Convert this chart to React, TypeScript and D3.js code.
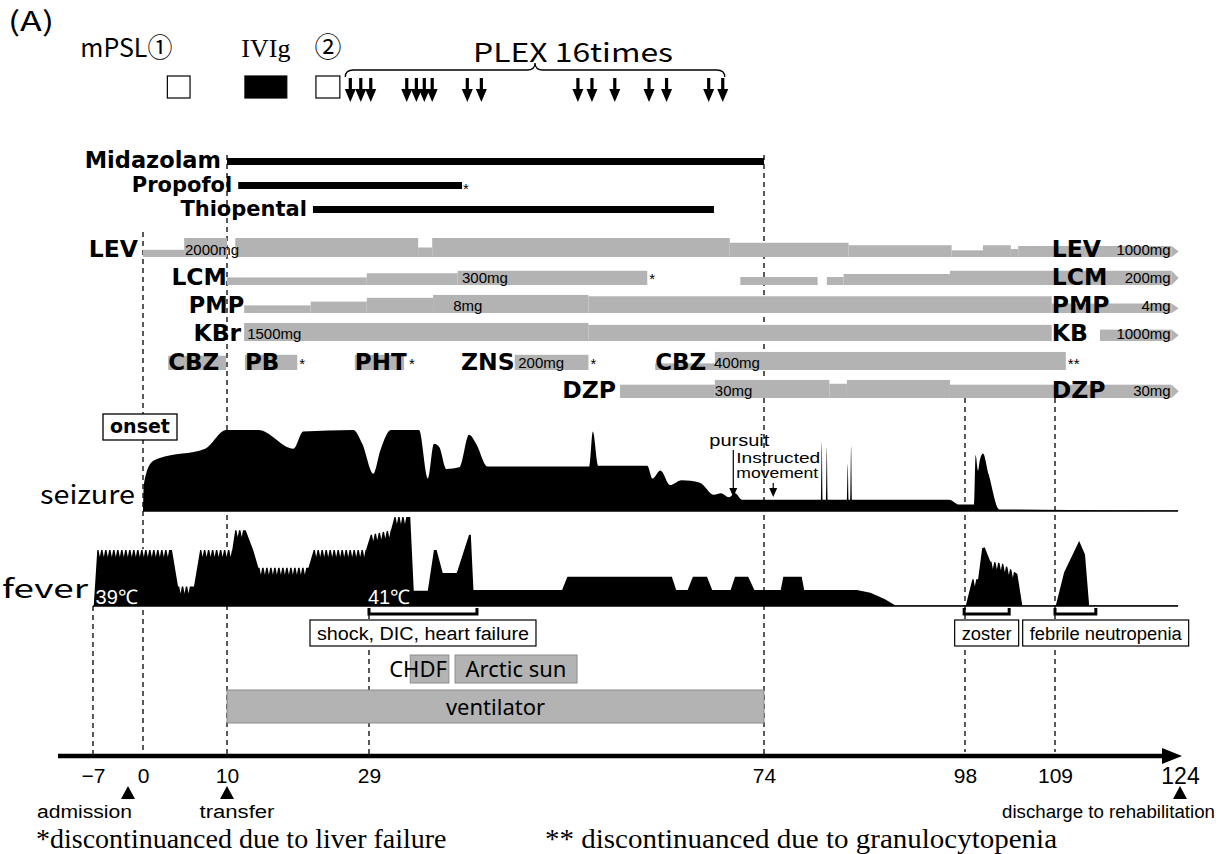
import { useEffect, useRef } from "react";
import * as d3 from "d3";

type Step = [number, number, number]; // [fromDay, toDay, relative dose level 0-1]
type Pt = [number, number]; // [day, level 0-100]

const axisDays = [-7, 0, 10, 29, 74, 98, 109, 124];

// immunotherapy courses
const immunoLabels = ["mPSL①", "IVIg", "②"];
const immunoStart = [2.9, 12.4, 21.9];
const immunoEnd = [5.6, 18.0, 25.1];
const immunoFilled = [false, true, false];

// plasma exchange sessions (16)
const plexDays = [26.5, 27.9, 29.2, 33.3, 34.4, 35.3, 36.2, 40.2, 41.8, 52.8, 54.4, 57.0, 60.9, 62.9, 67.7, 69.3];

// continuous sedatives
const sedNames = ["Midazolam", "Propofol", "Thiopental"];
const sedStart = [10, 11.5, 21.5];
const sedEnd = [74, 39.6, 68.3];
const sedNote = ["", "*", ""];

// antiseizure drugs
const levSteps: Step[] = [[0, 4.9, 0.38], [4.9, 10, 1], [11.1, 34.6, 1], [34.6, 36.2, 0.5], [36.2, 70.1, 1], [70.1, 84.1, 0.75], [84.1, 96.4, 0.62], [96.4, 100.2, 0.35], [100.2, 103.6, 0.62], [103.6, 104.5, 0.42], [104.5, 123, 0.58]];
const lcmSteps: Step[] = [[10, 28.7, 0.4], [28.7, 39.1, 0.62], [39.1, 60.7, 0.75], [71.3, 80.4, 0.42], [81.5, 83.5, 0.42], [83.5, 96.2, 0.58], [96.2, 123, 0.75]];
const pmpSteps: Step[] = [[12.3, 21.2, 0.4], [21.2, 28.7, 0.6], [28.7, 36.3, 0.8], [36.3, 54, 0.95], [54, 108.6, 0.88], [108.6, 123, 0.5]];
const kbrSteps: Step[] = [[12.3, 54, 0.95], [54, 108.6, 0.85], [114.4, 123, 0.6]];
const cbzSteps: Step[] = [[3.0, 9.9, 0.75]];
const pbSteps: Step[] = [[12.4, 19.4, 0.8]];
const phtSteps: Step[] = [[27.1, 33.0, 0.8]];
const znsSteps: Step[] = [[45.6, 54.0, 0.8]];
const cbz2Steps: Step[] = [[61.6, 68.4, 0.35], [68.4, 110.3, 0.95]];
const dzpSteps: Step[] = [[57.6, 68.4, 0.7], [68.4, 81.8, 0.95], [81.8, 83.9, 0.75], [83.9, 96.2, 0.95], [96.2, 123, 0.7]];

const doseNotes = [
  { drug: "LEV", day: 5.0, text: "2000mg" },
  { drug: "LCM", day: 39.6, text: "300mg" },
  { drug: "PMP", day: 38.6, text: "8mg" },
  { drug: "KBr", day: 12.7, text: "1500mg" },
  { drug: "ZNS", day: 46.0, text: "200mg" },
  { drug: "CBZ2", day: 68.3, text: "400mg" },
  { drug: "DZP", day: 68.4, text: "30mg" },
];
const finalNames = ["LEV", "LCM", "PMP", "KB", "DZP"];
const finalDoses = ["1000mg", "200mg", "4mg", "1000mg", "30mg"];

// seizure burden and body temperature (relative 0-100)
const seizurePts: Pt[] = [[0, 0], [0.1, 33], [1.0, 60], [1.9, 65], [7.4, 77], [9.9, 100], [14.2, 100], [18.9, 77], [20.2, 98], [26.9, 100], [28.1, 83], [29.5, 46], [30.3, 75], [31.5, 100], [34.7, 100], [35.7, 40], [36.4, 83], [37.0, 79], [37.8, 52], [39.3, 54], [40.4, 94], [41.2, 83], [42.5, 55], [54.1, 55], [54.5, 98], [55.1, 56], [60.7, 56], [61.3, 40], [62.2, 50], [63.3, 32], [64.6, 38], [66.7, 35], [68.3, 20], [69.1, 22], [70.0, 17], [70.7, 22], [71.5, 14], [80.8, 14], [80.9, 85], [81.0, 14], [81.4, 14], [81.5, 78], [81.6, 14], [83.9, 14], [84.0, 58], [84.1, 14], [84.3, 14], [84.4, 80], [84.5, 14], [96.1, 14], [97.3, 8], [99.1, 8], [99.3, 69], [99.6, 50], [99.8, 62], [100.2, 71], [100.9, 45], [102.2, 2], [123.8, 0.5]];
const feverPts: Pt[] = [[-6.9, 0], [-6.4, 63], [3.45, 63], [4.17, 22], [6.07, 22], [6.8, 63], [10.7, 63], [11.1, 85], [12.5, 85], [13.5, 63], [14.2, 43], [20.9, 43], [21.6, 63], [28.6, 63], [29.2, 80], [31.5, 85], [31.9, 100], [33.7, 100], [34.1, 17], [35.7, 17], [36.4, 63], [36.7, 63], [37.4, 37], [39.0, 37], [40.4, 80], [40.6, 80], [40.9, 18], [51.0, 18], [51.6, 33], [63.5, 33], [64.0, 18], [65.3, 18], [65.9, 33], [67.5, 33], [68.1, 18], [70.2, 18], [70.7, 33], [72.2, 33], [72.9, 18], [76.0, 18], [76.3, 33], [78.5, 33], [78.8, 18], [85.1, 18], [86.7, 15], [88.4, 8], [89.7, 0.5], [98.1, 0.5], [98.9, 30], [99.6, 30], [100.1, 65], [100.4, 66], [101.1, 50], [102.5, 48], [104.4, 36], [105.0, 0.5], [109.1, 0.5], [110.1, 38], [111.9, 73], [112.6, 58], [113.1, 0.5], [123.8, 0.5]];
const feverTeeth: [number, number][] = [[-6.4, 3.45], [4.17, 6.07], [6.8, 10.7], [11.1, 12.5], [14.2, 20.9], [21.6, 28.6], [29.2, 31.5], [31.9, 33.7], [98.9, 99.6], [101.1, 104.4]];
const tempLabels = ["39℃", "41℃"];
const tempDays = [-6.5, 29];

const recoveryLabels = ["pursuit", "Instructed movement"];
const recoveryDays = [70.5, 75.1];

const eventLabels = ["shock, DIC, heart failure", "zoster", "febrile neutropenia"];
const eventFrom = [29, 97.9, 109];
const eventTo = [41.3, 103.4, 113.9];

const supportLabels = ["CHDF", "Arctic sun", "ventilator"];
const supportFrom = [33.7, 38.8, 10];
const supportTo = [38.1, 52.7, 74];

const milestoneLabels = ["admission", "transfer", "discharge to rehabilitation"];
const milestoneDays = [-2.1, 10, 124];

const footnotes = ["*discontinuanced due to liver failure", "** discontinuanced due to granulocytopenia"];

const App = () => {
  const ref = useRef<SVGSVGElement | null>(null);

  useEffect(() => {
    if (!ref.current) return;
    const W = 1220;
    const H = 854;
    const svg = d3.select(ref.current);
    svg.selectAll("*").remove();
    svg.attr("width", W).attr("height", H);

    const gothic = "'Noto Sans CJK JP', 'Noto Sans', sans-serif";
    const bold = "'DejaVu Sans', sans-serif";
    const sans = "'Liberation Sans', Arial, sans-serif";
    const serif = "'Liberation Serif', 'Times New Roman', serif";
    const gray = "#b3b3b3";

    const x = d3.scaleLinear().domain(axisDays).range([93, 143, 227, 369, 764, 965, 1055, 1180]);

    svg.append("rect").attr("width", W).attr("height", H).attr("fill", "#fff");

    const text = (s: string, px: number, py: number, size: number, family: string, anchor = "start", weight = "normal", fill = "#000") =>
      svg
        .append("text")
        .attr("x", px)
        .attr("y", py)
        .attr("font-size", size)
        .attr("font-family", family)
        .attr("font-weight", weight)
        .attr("text-anchor", anchor)
        .attr("fill", fill)
        .text(s);

    // dashed guides
    const guides: [number, number, number][] = [[-7, 606, 756], [0, 232, 756], [10, 155, 756], [29, 614, 756], [74, 155, 756], [98, 398, 752], [109, 398, 752]];
    svg
      .selectAll(".guide")
      .data(guides)
      .join("line")
      .attr("x1", (d) => x(d[0]))
      .attr("x2", (d) => x(d[0]))
      .attr("y1", (d) => d[1])
      .attr("y2", (d) => d[2])
      .attr("stroke", "#000")
      .attr("stroke-width", 1.3)
      .attr("stroke-dasharray", "5,4");

    // title + immunotherapy
    text("(A)", 8, 31, 27, gothic).attr("textLength", 46).attr("lengthAdjust", "spacingAndGlyphs");
    immunoLabels.forEach((lab, i) => {
      const x0 = x(immunoStart[i]);
      const x1 = x(immunoEnd[i]);
      svg
        .append("rect")
        .attr("x", x0)
        .attr("y", 76)
        .attr("width", x1 - x0)
        .attr("height", 22)
        .attr("fill", immunoFilled[i] ? "#000" : "#fff")
        .attr("stroke", "#000")
        .attr("stroke-width", 1.2);
      if (i === 0) text(lab, x0 + 5, 57, 26, gothic, "end").attr("textLength", 92).attr("lengthAdjust", "spacingAndGlyphs");
      else text(lab, (x0 + x1) / 2, 57, i === 1 ? 26 : 27, i === 1 ? serif : gothic, "middle");
    });

    // PLEX arrows and brace
    plexDays.forEach((d) => {
      const px = x(d);
      svg.append("line").attr("x1", px).attr("x2", px).attr("y1", 78).attr("y2", 92).attr("stroke", "#000").attr("stroke-width", 3.2);
      svg.append("path").attr("d", `M${px - 5.5},89 L${px + 5.5},89 L${px},102 Z`).attr("fill", "#000");
    });
    const bx0 = x(plexDays[0]) - 5;
    const bx1 = x(plexDays[plexDays.length - 1]) + 2;
    const bxm = (bx0 + bx1) / 2;
    svg
      .append("path")
      .attr("d", `M${bx0},77 Q${bx0},70 ${bx0 + 8},70 L${bxm - 8},70 Q${bxm},70 ${bxm},63 Q${bxm},70 ${bxm + 8},70 L${bx1 - 8},70 Q${bx1},70 ${bx1},77`)
      .attr("fill", "none")
      .attr("stroke", "#000")
      .attr("stroke-width", 1.3);
    text("PLEX 16times", bxm - 62, 62, 26, gothic).attr("textLength", 200).attr("lengthAdjust", "spacingAndGlyphs");

    // sedatives
    sedNames.forEach((name, i) => {
      const top = 158 + i * 24;
      svg
        .append("rect")
        .attr("x", x(sedStart[i]))
        .attr("y", top)
        .attr("width", x(sedEnd[i]) - x(sedStart[i]))
        .attr("height", 7)
        .attr("fill", "#000");
      text(name, x(sedStart[i]) - 6, top + 10, i === 0 ? 22.5 : 21, bold, "end", "bold");
      if (sedNote[i]) text(sedNote[i], x(sedEnd[i]) + 1, top + 12, 15, sans);
    });

    // antiseizure drugs
    const rowBottom = [257, 285, 313, 341, 370, 398];
    const fullH = 19;
    const drugs = [
      { name: "LEV", row: 0, steps: levSteps, note: "" },
      { name: "LCM", row: 1, steps: lcmSteps, note: "*" },
      { name: "PMP", row: 2, steps: pmpSteps, note: "" },
      { name: "KBr", row: 3, steps: kbrSteps, note: "" },
      { name: "CBZ", row: 4, steps: cbzSteps, note: "" },
      { name: "PB", row: 4, steps: pbSteps, note: "*" },
      { name: "PHT", row: 4, steps: phtSteps, note: "*" },
      { name: "ZNS", row: 4, steps: znsSteps, note: "*" },
      { name: "CBZ2", row: 4, steps: cbz2Steps, note: "**" },
      { name: "DZP", row: 5, steps: dzpSteps, note: "" },
    ];
    const h = d3.scaleLinear().domain([0, 1]).range([0, fullH]);
    const inside = ["CBZ", "PB", "PHT", "CBZ2"];

    drugs.forEach((dr) => {
      const base = rowBottom[dr.row];
      svg
        .append("g")
        .selectAll("rect")
        .data(dr.steps)
        .join("rect")
        .attr("x", (d) => x(d[0]))
        .attr("width", (d) => x(d[1]) - x(d[0]))
        .attr("y", (d) => base - h(d[2]))
        .attr("height", (d) => h(d[2]))
        .attr("fill", gray);
      const last = dr.steps[dr.steps.length - 1];
      if (last[1] >= 123) {
        const ex = x(last[1]);
        const eh = h(last[2]);
        svg.append("path").attr("d", `M${ex},${base - eh} L${ex + 7},${base - eh / 2} L${ex},${base} Z`).attr("fill", gray);
      }
      const first = dr.steps[0];
      const label = dr.name.replace("2", "");
      const size = dr.name === "PMP" ? 22.5 : 23.5;
      if (inside.includes(dr.name)) text(label, x(first[0]), base, 23, bold, "start", "bold");
      else text(label, x(first[0]) - (dr.name === "LEV" ? 5 : dr.name === "KBr" ? 3 : dr.name === "DZP" ? 4 : 0), base, size, bold, "end", "bold");
      if (dr.note) {
        const stop = dr.name === "LCM" ? dr.steps[2][1] : last[1];
        text(dr.note, x(stop) + (dr.name === "PHT" ? 5 : 2), base - 1, 15, sans);
      }
    });

    doseNotes.forEach((n) => {
      const dr = drugs.find((d) => d.name === n.drug)!;
      text(n.text, x(n.day), rowBottom[dr.row] - 2, 15, sans);
    });
    finalNames.forEach((n, i) => {
      const row = i < 4 ? i : 5;
      text(n, x(108.6), rowBottom[row], 23.5, bold, "start", "bold");
      text(finalDoses[i], x(123) - 1, rowBottom[row] - 2, 15, sans, "end");
    });

    // seizure
    const sy = d3.scaleLinear().domain([0, 100]).range([511, 430]);
    const seizureArea = d3
      .area<Pt>()
      .x((d) => x(d[0]))
      .y0(sy(0))
      .y1((d) => sy(d[1]))
      .curve(d3.curveMonotoneX);
    svg.append("path").attr("d", seizureArea(seizurePts)).attr("fill", "#000");
    svg.append("line").attr("x1", x(0)).attr("x2", 1178).attr("y1", sy(0)).attr("y2", sy(0)).attr("stroke", "#000").attr("stroke-width", 1.5);
    text("seizure", 40, 504, 26, gothic).attr("textLength", 95).attr("lengthAdjust", "spacingAndGlyphs");

    // onset
    svg.append("rect").attr("x", 103).attr("y", 414).attr("width", 74).attr("height", 26).attr("fill", "#fff").attr("stroke", "#000").attr("stroke-width", 1.3);
    text("onset", 140, 433, 19, bold, "middle", "bold");

    // recovery milestones
    recoveryDays.forEach((d, i) => {
      const px = x(d);
      const y0 = i === 0 ? 450 : 483;
      svg.append("line").attr("x1", px).attr("x2", px).attr("y1", y0).attr("y2", 490).attr("stroke", "#000").attr("stroke-width", 1.2);
      svg.append("path").attr("d", `M${px - 4},488 L${px + 4},488 L${px},497 Z`).attr("fill", "#000");
    });
    text(recoveryLabels[0], x(recoveryDays[0]) - 24, 446, 16, sans).attr("textLength", 60).attr("lengthAdjust", "spacingAndGlyphs");
    const words = recoveryLabels[1].split(" ");
    text(words[0], x(recoveryDays[0]) + 3, 463, 14.5, sans).attr("textLength", 84).attr("lengthAdjust", "spacingAndGlyphs");
    text(words[1], x(recoveryDays[0]) + 3, 478, 14.5, sans).attr("textLength", 82).attr("lengthAdjust", "spacingAndGlyphs");

    // fever
    const fy = d3.scaleLinear().domain([0, 100]).range([606, 517]);
    const feverAt = d3.scaleLinear().domain(feverPts.map((p) => p[0])).range(feverPts.map((p) => p[1]));
    const feverArea = d3
      .area<Pt>()
      .x((d) => x(d[0]))
      .y0(fy(0))
      .y1((d) => fy(d[1]));
    svg.append("path").attr("d", feverArea(feverPts)).attr("fill", "#000");
    feverTeeth.forEach(([a, b]) => {
      for (let px = x(a) + 1; px < x(b) - 3; px += 4) {
        const top = fy(feverAt(x.invert(px + 1.5)));
        svg.append("path").attr("d", `M${px},${top - 1} L${px + 3},${top - 1} L${px + 1.5},${top + 7} Z`).attr("fill", "#fff");
      }
    });
    svg.append("line").attr("x1", x(-7)).attr("x2", 1178).attr("y1", fy(0)).attr("y2", fy(0)).attr("stroke", "#000").attr("stroke-width", 1.5);
    text("fever", 2, 598, 26, gothic).attr("textLength", 86).attr("lengthAdjust", "spacingAndGlyphs");
    tempLabels.forEach((t, i) => text(t, x(tempDays[i]) - 1, 604, 20, sans, "start", "normal", "#fff"));

    // clinical events: brackets + boxes
    let prevRight = 0;
    const boxW = [226, 64, 166];
    eventLabels.forEach((lab, i) => {
      const x0 = x(eventFrom[i]);
      const x1 = x(eventTo[i]);
      svg
        .append("path")
        .attr("d", `M${x0},608 L${x0},614 L${x1},614 L${x1},608`)
        .attr("fill", "none")
        .attr("stroke", "#000")
        .attr("stroke-width", 3);
      let left = (x0 + x1) / 2 - boxW[i] / 2;
      if (left < prevRight + 4) left = prevRight + 4;
      prevRight = left + boxW[i];
      svg.append("rect").attr("x", left).attr("y", 620).attr("width", boxW[i]).attr("height", 26).attr("fill", "#fff").attr("stroke", "#000").attr("stroke-width", 1.2);
      text(lab, left + boxW[i] / 2, 640, 18, sans, "middle")
        .attr("textLength", boxW[i] - 14)
        .attr("lengthAdjust", "spacingAndGlyphs");
    });

    // supportive care
    supportLabels.forEach((lab, i) => {
      const top = i < 2 ? 655 : 690;
      const hh = i < 2 ? 28 : 33;
      const x0 = x(supportFrom[i]);
      const x1 = x(supportTo[i]);
      svg.append("rect").attr("x", x0).attr("y", top).attr("width", x1 - x0).attr("height", hh).attr("fill", gray).attr("stroke", "#8c8c8c").attr("stroke-width", 1);
      if (i === 0) text(lab, x1 - 2, top + 22, 22, "'Noto Sans', sans-serif", "end");
      else text(lab, (x0 + x1) / 2, top + hh / 2 + 8, 22, "'Noto Sans', sans-serif", "middle");
    });

    // time axis
    svg.append("line").attr("x1", 58).attr("x2", 1166).attr("y1", 756).attr("y2", 756).attr("stroke", "#000").attr("stroke-width", 4.5);
    svg.append("path").attr("d", "M1162,748 L1182,756 L1162,764 Z").attr("fill", "#000");
    const axis = svg
      .append("g")
      .attr("transform", "translate(0,768)")
      .call(d3.axisBottom(x).tickValues(axisDays).tickSize(0).tickPadding(0));
    axis.select(".domain").remove();
    axis
      .selectAll("text")
      .attr("font-family", sans)
      .attr("font-size", (d) => ((d as number) === 124 ? 23 : 21))
      .attr("fill", "#000");

    milestoneDays.forEach((d, i) => {
      const px = x(d);
      svg.append("path").attr("d", `M${px},786 L${px + 7},799 L${px - 7},799 Z`).attr("fill", "#000");
      const lab = milestoneLabels[i];
      if (i === 0) text(lab, px + 4, 818, 18, sans, "end").attr("textLength", 95).attr("lengthAdjust", "spacingAndGlyphs");
      else if (i === 1) text(lab, px + 10, 818, 18, sans, "middle").attr("textLength", 75).attr("lengthAdjust", "spacingAndGlyphs");
      else text(lab, 1215, 818, 18, sans, "end").attr("textLength", 213).attr("lengthAdjust", "spacingAndGlyphs");
    });

    text(footnotes[0], 36, 848, 28, serif);
    text(footnotes[1], 545, 848, 28, serif).attr("textLength", 512).attr("lengthAdjust", "spacingAndGlyphs");
  }, []);

  return (
    <div style={{ position: "absolute", left: 0, top: 0 }}>
      <svg ref={ref} style={{ display: "block" }}></svg>
    </div>
  );
};

export default App;
